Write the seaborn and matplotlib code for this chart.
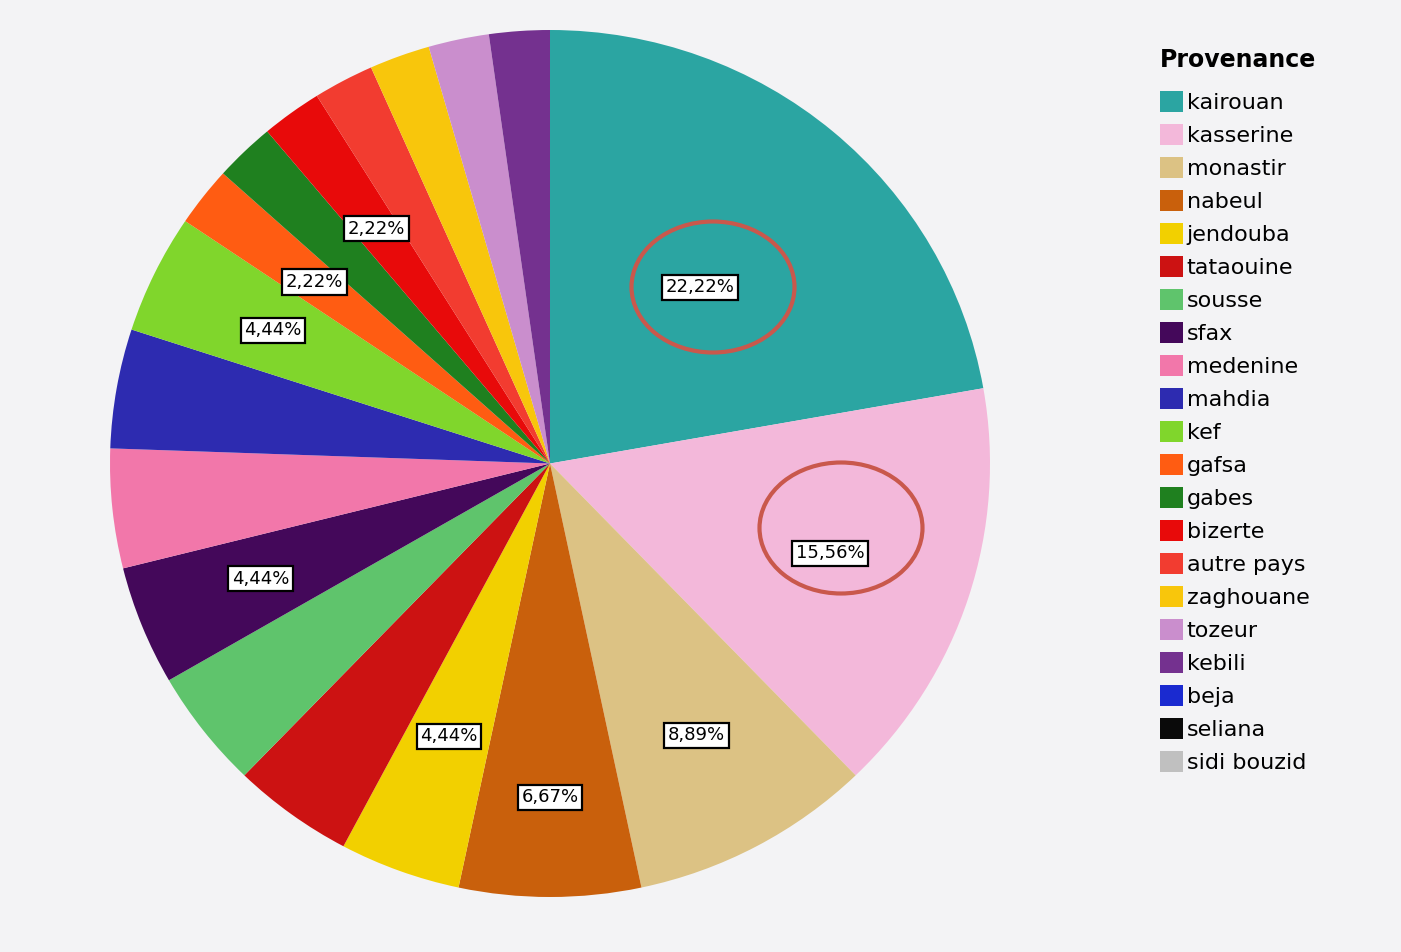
import matplotlib
matplotlib.use("Agg")
import matplotlib.pyplot as plt
from matplotlib.patches import Patch, Ellipse
import numpy as np
import seaborn as sns

sns.set_style("white")
plt.rcParams['font.family'] = ['DejaVu Sans']

# data (counts out of 45)
provenance = ['kairouan', 'kasserine', 'monastir', 'nabeul', 'jendouba', 'tataouine',
              'sousse', 'sfax', 'medenine', 'mahdia', 'kef', 'gafsa', 'gabes', 'bizerte',
              'autre pays', 'zaghouane', 'tozeur', 'kebili', 'beja', 'seliana', 'sidi bouzid']
counts = [10, 7, 4, 3, 2, 2, 2, 2, 2, 2, 2, 1, 1, 1, 1, 1, 1, 1, 0, 0, 0]
colors = ['#2ba5a2', '#f3b8da', '#dcc284', '#c9600c', '#f2d000', '#cc1212',
          '#5fc46c', '#44085a', '#f277aa', '#2d2bb0', '#80d62c', '#ff5c12', '#1f801f',
          '#e80a0a', '#f23c30', '#f8c60c', '#ca8ecd', '#74318f', '#1a2ad0', '#0a0a0a', '#c0c0c0']

# which slices show a percentage label, and how far out (fraction of radius)
labelled = {'kairouan': 0.53, 'kasserine': 0.67, 'monastir': 0.71, 'nabeul': 0.77,
            'jendouba': 0.67, 'sfax': 0.71, 'kef': 0.70, 'gafsa': 0.68, 'bizerte': 0.67}

total = sum(counts)
fig = plt.figure(figsize=(14.01, 9.52), dpi=100)
fig.patch.set_facecolor('#f3f3f5')

cx, cy, rx, ry = 550, 463.5, 440, 433.5
ax = fig.add_axes([(cx - rx) / 1401, (952 - cy - ry) / 952, 2 * rx / 1401, 2 * ry / 952])

vals = [c for c in counts if c > 0]
cols = [colors[i] for i, c in enumerate(counts) if c > 0]
names = [provenance[i] for i, c in enumerate(counts) if c > 0]

wedges, _ = ax.pie(vals, colors=cols, startangle=90, counterclock=False,
                   wedgeprops=dict(linewidth=0))
ax.set_aspect('auto')
ax.set_xlim(-1, 1)
ax.set_ylim(-1, 1)
ax.axis('off')

for w, name, v in zip(wedges, names, vals):
    if name in labelled:
        mid = np.deg2rad((w.theta1 + w.theta2) / 2)
        r = labelled[name]
        pct = f"{100 * v / total:.2f}%".replace('.', ',')
        ax.text(r * np.cos(mid), r * np.sin(mid), pct, ha='center', va='center',
                fontsize=13, color='black',
                bbox=dict(boxstyle='square,pad=0.2', facecolor='white', edgecolor='black', linewidth=1.6))

# red hand-drawn circles around the two biggest labels
for (ex, ey) in [(713, 287), (841, 528)]:
    fig.patches.append(Ellipse((ex / 1401, 1 - ey / 952), 163 / 1401, 131 / 952,
                               transform=fig.transFigure, fill=False,
                               edgecolor='#c9584c', linewidth=3))

handles = [Patch(facecolor=c, edgecolor='none') for c in colors]
leg = fig.legend(handles, provenance, loc='upper left', bbox_to_anchor=(1140 / 1401, 1 - 28 / 952),
                 frameon=False, title='Provenance', fontsize=16, labelcolor='black',
                 title_fontproperties={'weight': 'bold', 'size': 17},
                 handlelength=1.05, handleheight=1.05, handletextpad=0.15,
                 labelspacing=0.5, alignment='left')
leg.get_title().set_color('black')
leg._legend_box.sep = 14

fig.savefig('out.png', dpi=100, facecolor=fig.get_facecolor())
